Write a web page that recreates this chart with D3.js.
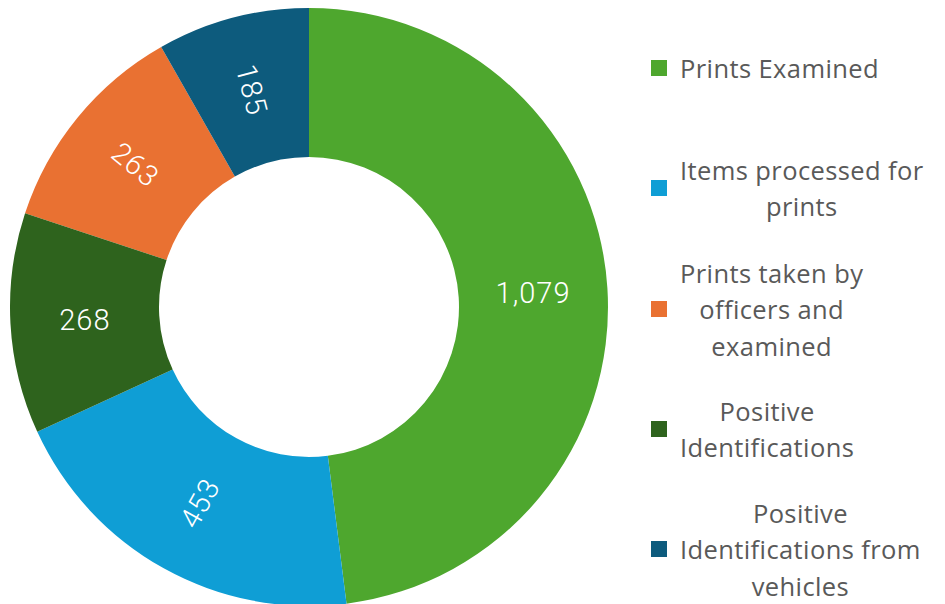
<!DOCTYPE html>
<html>
<head>
<meta charset="utf-8">
<script src="https://cdn.jsdelivr.net/npm/d3@7"></script>
<style>
  html, body { margin: 0; padding: 0; background: #fff; }
</style>
</head>
<body>
<div id="chart"></div>
<script>
'use strict';

var categories = ['Prints Examined', 'Items processed for prints', 'Prints taken by officers and examined', 'Positive Identifications', 'Positive Identifications from vehicles'];
var values = [1079, 453, 263, 268, 185];
var colors = ['#4ea72e', '#0f9ed5', '#e97132', '#2e631d', '#0d5b7d'];
var legendLines = [
	['Prints Examined'],
	['Items processed for', 'prints'],
	['Prints taken by', 'officers and', 'examined'],
	['Positive', 'Identifications'],
	['Positive', 'Identifications from', 'vehicles']
];

var width = 945;
var height = 604;
var cx = 309, cy = 307;
var outerR = 299, innerR = 150;

var data = categories.map(function(c, i){
	return {name: c, value: values[i], color: colors[i], lines: legendLines[i]};
});

var svg = d3.select('#chart').append('svg')
	.attr('width', width)
	.attr('height', height);

var pie = d3.pie()
	.value(function(d){ return d.value; })
	.sort(function(a, b){ return b.value - a.value; });

var arc = d3.arc().innerRadius(innerR).outerRadius(outerR);

var g = svg.append('g').attr('transform', 'translate(' + cx + ',' + cy + ')');

var arcs = pie(data);

g.selectAll('path')
	.data(arcs)
	.enter().append('path')
	.attr('d', arc)
	.style('fill', function(d){ return d.data.color; });

var fmt = d3.format(',');

g.selectAll('text.lbl')
	.data(arcs)
	.enter().append('text')
	.attr('class', 'lbl')
	.attr('transform', function(d){
		var c = arc.centroid(d);
		var deg = (d.startAngle + d.endAngle) / 2 * 180 / Math.PI;
		var rot = deg - 90;
		while (rot > 90) rot -= 180;
		while (rot < -90) rot += 180;
		if (Math.abs(rot) < 10) rot = 0;
		return 'translate(' + c[0] + ',' + c[1] + ') rotate(' + rot + ')';
	})
	.attr('text-anchor', 'middle')
	.attr('dominant-baseline', 'central')
	.style('font-family', 'Roboto, sans-serif')
	.style('font-weight', 300)
	.style('font-size', '29px')
	.style('letter-spacing', '1px')
	.style('fill', '#fff')
	.text(function(d){ return fmt(d.value); });

// legend
var legX = 651, textX = 680, lineH = 36.5;
var legCenters = [68, 188, 309, 429, 549];

var leg = svg.selectAll('g.leg')
	.data(data)
	.enter().append('g')
	.attr('class', 'leg');

leg.append('rect')
	.attr('x', legX)
	.attr('y', function(d, i){ return legCenters[i] - 8; })
	.attr('width', 16)
	.attr('height', 16)
	.style('fill', function(d){ return d.color; });

leg.each(function(d, i){
	var el = d3.select(this);
	var n = d.lines.length;
	var top = legCenters[i] - (n - 1) * lineH / 2;
	var texts = d.lines.map(function(line, k){
		return el.append('text')
			.attr('y', top + k * lineH)
			.attr('dominant-baseline', 'central')
			.attr('text-anchor', 'middle')
			.style('font-family', '"Open Sans", sans-serif')
			.style('font-size', '25.5px')
			.style('letter-spacing', '0.4px')
			.style('fill', '#595959')
			.text(line);
	});
	var maxW = d3.max(texts, function(t){ return t.node().getComputedTextLength(); });
	texts.forEach(function(t){ t.attr('x', textX + maxW / 2); });
});
</script>
</body>
</html>
